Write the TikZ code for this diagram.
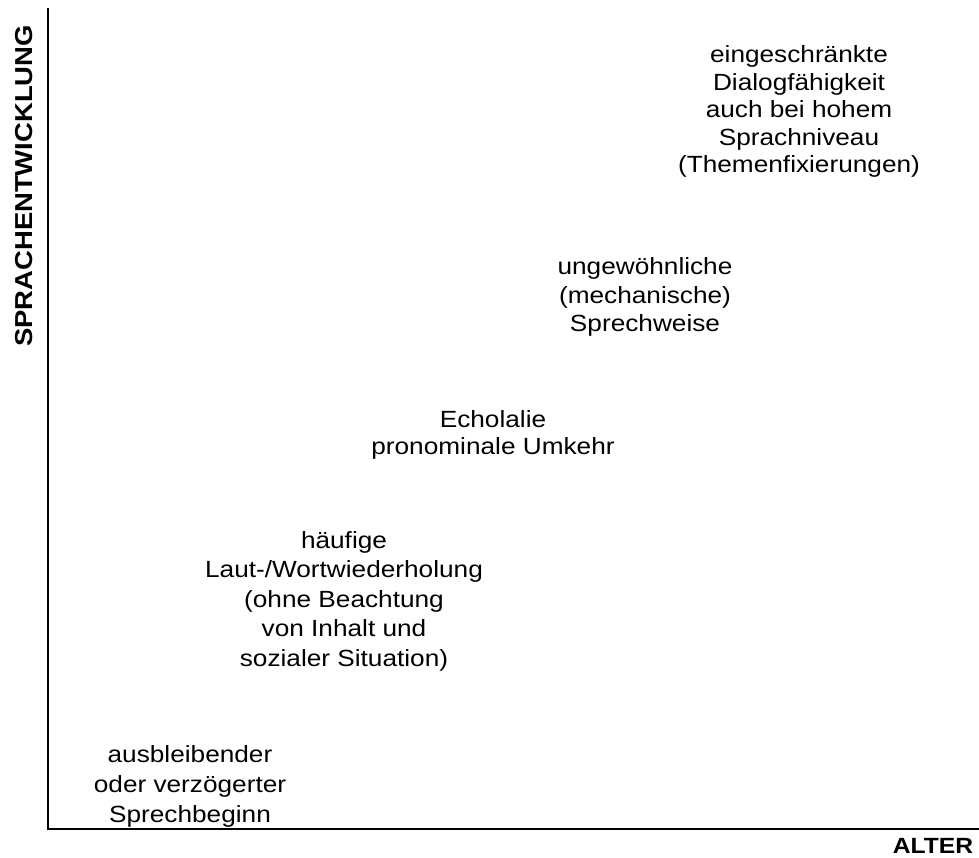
\documentclass[tikz,border=0pt]{standalone}
\usepackage{fontspec}
\setmainfont{Liberation Sans}[FakeStretch=1.12]
\newcommand{\txtblock}[2]{\fontsize{23.4}{#1}\selectfont\begin{tabular}[t]{@{}c@{}}#2\end{tabular}}
\tikzset{
  lbl/.style={inner sep=0pt, anchor=base, text=black},
  axislbl/.style={inner sep=0pt, font=\bfseries, text=black},
  axis/.style={line width=2.2pt, black}
}
\begin{document}
\begin{tikzpicture}[x=1pt, y=-1pt]
\useasboundingbox (0,0) rectangle (979,858);
\fill[white] (0,0) rectangle (979,858);
% axes
\coordinate (ytop) at (48,8);
\coordinate (origin) at (48,829);
\coordinate (xend) at (979,829);
\draw[axis] (ytop) -- (origin) -- (xend);
% axis labels
\node[axislbl, rotate=90, font=\bfseries\fontsize{24.5}{28}\selectfont] (ylabel) at (24,186) {SPRACHENTWICKLUNG};
\node[axislbl, anchor=base, font=\bfseries\fontsize{22}{26}\selectfont] (xlabel) at (933,853) {ALTER};
% text blocks
\node[lbl] (b1) at (799,63) {\txtblock{27.5}{eingeschränkte\\Dialogfähigkeit\\auch bei hohem\\Sprachniveau\\(Themenfixierungen)}};
\node[lbl] (b2) at (645,275) {\txtblock{28.5}{ungewöhnliche\\(mechanische)\\Sprechweise}};
\node[lbl] (b3) at (493,427) {\txtblock{27}{Echolalie\\pronominale Umkehr}};
\node[lbl] (b4) at (344,548) {\txtblock{29.5}{häufige\\Laut-/Wortwiederholung\\(ohne Beachtung\\von Inhalt und\\sozialer Situation)}};
\node[lbl] (b5) at (190,762) {\txtblock{30}{ausbleibender\\oder verzögerter\\Sprechbeginn}};
\end{tikzpicture}
\end{document}
